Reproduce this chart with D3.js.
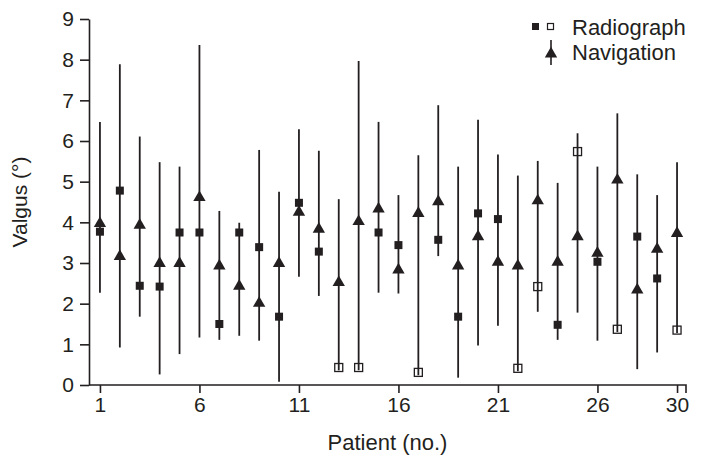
<!DOCTYPE html>
<html>
<head>
<meta charset="UTF-8">
<title>Valgus by patient</title>
<script src="https://cdn.jsdelivr.net/npm/d3@7"></script>
<style>
  body { margin: 0; background: #fff; }
  svg text { font-family: "Liberation Sans", Arial, sans-serif; fill: #231f20; }
  .axis path, .axis line { fill: none; stroke: #231f20; stroke-width: 1.6; }
  .axis text { font-size: 21px; }
</style>
</head>
<body>
<script>
// patient numbers 1..30
var patients = [1,2,3,4,5,6,7,8,9,10,11,12,13,14,15,16,17,18,19,20,21,22,23,24,25,26,27,28,29,30];

// navigation: mean (triangle) and range (vertical line)
var navMean = [3.97,3.16,3.93,2.99,2.99,4.61,2.93,2.43,2.01,2.99,4.25,3.83,2.52,4.02,4.33,2.83,4.22,4.51,2.93,3.65,3.02,2.93,4.53,3.02,3.65,3.24,5.04,2.34,3.34,3.73];
var navMax  = [6.47,7.89,6.11,5.48,5.37,8.36,4.28,3.99,5.78,4.75,6.29,5.76,4.57,7.97,6.47,4.67,5.65,6.88,5.37,6.52,5.67,5.15,5.51,4.97,6.19,5.37,6.68,5.18,4.67,5.48];
var navMin  = [2.27,0.92,1.68,0.26,0.76,1.17,1.11,1.21,1.09,0.08,2.66,2.19,0.36,0.36,2.27,2.25,0.24,3.17,0.18,0.97,1.46,0.34,1.80,1.11,1.78,1.09,1.30,0.39,0.80,1.28];

// radiograph value (square); open = hollow square
var radio     = [3.77,4.78,2.44,2.42,3.75,3.75,1.50,3.75,3.39,1.68,4.48,3.28,0.43,0.43,3.75,3.44,0.31,3.57,1.68,4.22,4.08,0.41,2.42,1.48,5.74,3.03,1.37,3.65,2.62,1.35];
var radioOpen = [0,0,0,0,0,0,0,0,0,0,0,0,1,1,0,0,1,0,0,0,0,1,1,0,1,0,1,0,0,1];

var xTicks = [1,6,11,16,21,26,30];
var yTicks = [0,1,2,3,4,5,6,7,8,9];

var width = 701, height = 469;
var svg = d3.select("body").append("svg")
    .attr("width", width)
    .attr("height", height);

var x = d3.scaleLinear().domain([0.45, 30.45]).range([89, 686]);
var y = d3.scaleLinear().domain([0, 9]).range([385, 19]);

var rows = patients.map(function(p, i) {
  return { p: p, mean: navMean[i], lo: navMin[i], hi: navMax[i], r: radio[i], open: radioOpen[i] };
});

// axes
var yAxis = d3.axisLeft(y).tickValues(yTicks).tickSize(9).tickSizeOuter(0).tickPadding(6);
svg.append("g").attr("class", "axis")
    .attr("transform", "translate(89,0)")
    .call(yAxis);

var xAxis = d3.axisBottom(x).tickValues(xTicks).tickSize(8).tickPadding(4);
var gx = svg.append("g").attr("class", "axis")
    .attr("transform", "translate(0,385)")
    .call(xAxis);
gx.select(".domain")
    .attr("d", "M" + x(0.45) + ",0H" + x(30.45) + "V8");

// error bars
svg.selectAll(".bar").data(rows).enter().append("line")
    .attr("x1", function(d) { return x(d.p); })
    .attr("x2", function(d) { return x(d.p); })
    .attr("y1", function(d) { return y(d.hi); })
    .attr("y2", function(d) { return y(d.lo); })
    .attr("stroke", "#231f20")
    .attr("stroke-width", 1.8);

// radiograph squares
var sq = 8;
svg.selectAll(".sq").data(rows).enter().append("rect")
    .attr("x", function(d) { return x(d.p) - sq / 2; })
    .attr("y", function(d) { return y(d.r) - sq / 2; })
    .attr("width", sq)
    .attr("height", sq)
    .attr("fill", function(d) { return d.open ? "none" : "#231f20"; })
    .attr("stroke", "#231f20")
    .attr("stroke-width", function(d) { return d.open ? 1.3 : 0; });

// navigation triangles
var tri = d3.symbol().type(d3.symbolTriangle).size(66);
svg.selectAll(".tri").data(rows).enter().append("path")
    .attr("d", tri)
    .attr("transform", function(d) { return "translate(" + x(d.p) + "," + y(d.mean) + ")"; })
    .attr("fill", "#231f20");

// axis titles
svg.append("text")
    .attr("x", (x(0.45) + x(30.45)) / 2)
    .attr("y", 450)
    .attr("text-anchor", "middle")
    .style("font-size", "22px")
    .text("Patient (no.)");

svg.append("text")
    .attr("transform", "translate(27," + y(4.5) + ") rotate(-90)")
    .attr("text-anchor", "middle")
    .style("font-size", "21px")
    .text("Valgus (°)");

// legend
var lg = svg.append("g");
lg.append("rect").attr("x", 532).attr("y", 23).attr("width", 7).attr("height", 7).attr("fill", "#231f20");
lg.append("rect").attr("x", 547.5).attr("y", 23.5).attr("width", 6).attr("height", 6)
    .attr("fill", "none").attr("stroke", "#231f20").attr("stroke-width", 1.2);
lg.append("text").attr("x", 572).attr("y", 35).style("font-size", "22px").text("Radiograph");
lg.append("line").attr("x1", 551).attr("x2", 551).attr("y1", 40).attr("y2", 65)
    .attr("stroke", "#231f20").attr("stroke-width", 1.6);
lg.append("path").attr("d", tri).attr("transform", "translate(551,54)").attr("fill", "#231f20");
lg.append("text").attr("x", 572).attr("y", 60).style("font-size", "22px").text("Navigation");
</script>
</body>
</html>
